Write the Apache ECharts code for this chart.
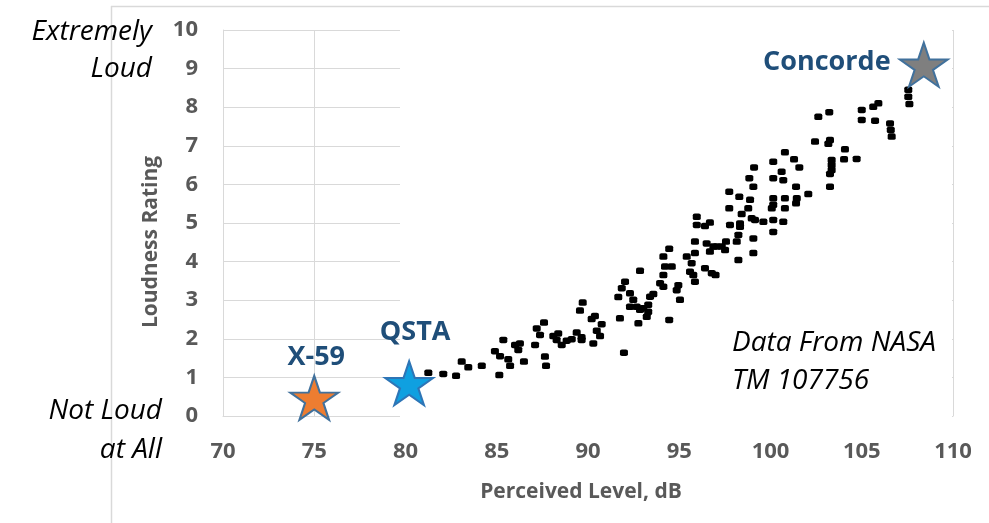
<!DOCTYPE html>
<html><head><meta charset="utf-8">
<script src="https://cdn.jsdelivr.net/npm/echarts@6/dist/echarts.min.js"></script>
<style>html,body{margin:0;padding:0;background:#fff}#c{width:989px;height:523px}</style>
</head><body><div id="c"></div>
<script>
// Perceived level (dB) of NASA TM 107756 data points
const surveyX = [81.25,82.07,82.77,83.08,83.44,84.18,85.14,85.36,84.90,85.18,85.63,85.73,86.0,86.18,86.49,87.10,87.37,87.19,87.59,87.64,87.70,88.10,88.28,88.56,88.83,89.11,89.38,89.65,89.71,89.56,89.65,90.20,90.38,90.48,90.66,90.29,90.75,91.97,91.66,92.03,91.75,91.85,92.30,92.48,92.30,92.76,92.85,93.03,93.30,93.22,93.40,93.58,93.30,94.13,94.22,94.13,94.59,94.13,93.95,94.45,94.86,95.04,94.95,95.41,95.68,95.77,95.86,94.45,95.86,95.96,95.96,95.86,96.41,96.78,96.50,96.68,97.05,97.51,97.56,98.24,98.15,98.24,98.33,99.06,99.06,96.68,97.74,97.78,98.33,98.42,97.74,98.29,98.78,98.97,98.88,99.15,99.61,100.15,100.70,100.15,100.07,100.15,100.79,100.79,100.15,99.06,98.84,99.10,100.15,100.15,100.61,100.70,100.79,101.29,101.58,101.40,101.44,101.40,102.07,102.44,102.62,103.22,103.26,103.17,103.35,103.35,103.35,103.26,103.26,104.08,104.03,104.72,105.0,105.0,105.73,105.63,105.91,106.55,106.59,106.64,107.55,107.55,107.61,86.27,88.37,92.67,92.85,96.41,97.33,96.87,95.59,96.99];
// Loudness rating of the same points
const surveyY = [1.12,1.09,1.04,1.41,1.26,1.30,1.06,1.97,1.68,1.55,1.47,1.30,1.84,1.71,1.41,1.84,2.10,2.27,2.42,1.54,1.30,2.07,1.97,1.84,1.95,1.99,2.16,2.04,2.94,2.73,1.97,2.51,2.59,2.21,2.07,1.88,2.38,1.64,3.08,3.48,2.53,3.31,3.18,3.01,2.83,2.40,3.76,2.79,2.88,2.57,3.09,3.16,2.70,4.13,3.87,3.65,3.87,3.35,3.44,2.49,3.26,3.01,3.39,4.13,3.96,3.65,3.48,4.33,4.52,5.16,4.95,4.22,3.83,3.70,4.47,4.26,4.39,4.30,4.52,4.04,4.52,4.69,4.90,4.60,4.22,5.01,5.38,4.95,4.99,5.23,5.81,5.68,5.38,5.12,5.60,5.08,5.03,5.08,5.03,4.77,5.38,5.64,5.38,5.64,5.47,5.94,6.16,6.44,6.16,6.59,6.33,6.11,6.83,6.65,6.44,5.94,5.64,5.51,5.75,7.11,7.75,7.87,7.15,7.05,6.63,6.50,6.37,6.27,5.94,6.91,6.65,6.66,7.93,7.67,7.65,8.01,8.10,7.58,7.41,7.24,8.45,8.27,8.08,1.88,2.14,2.83,2.75,4.92,4.39,4.39,3.74,3.65];
// Aircraft markers
const aircraftNames = ['X-59','QSTA','Concorde'];
const aircraftX = [75, 80.2, 108.4];
const aircraftY = [0.47, 0.85, 9.1];
const xTicks = [70,75,80,85,90,95,100,105,110];
const yTicks = [0,1,2,3,4,5,6,7,8,9,10];
const xTitle = 'Perceived Level, dB';
const yTitle = 'Loudness Rating';

const starPath = 'path://M50,0 L61.2,34.5 L97.6,34.5 L68.2,55.9 L79.4,90.5 L50,69.1 L20.6,90.5 L31.8,55.9 L2.4,34.5 L38.8,34.5 Z';
const starFill = ['#ED7D31','#0FA0E0','#7F7F7F'];
const starBorder = ['#41719C','#2E75B6','#41719C'];
const labelOffsets = [[2,-41],[6,-51],[-97,-2]];

const chart = echarts.init(document.getElementById('c'), null, {renderer:'canvas'});
const grey = '#d9d9d9';
const axisText = {color:'#595959', fontFamily:'Open Sans', fontWeight:'bold', fontSize:22};

const series = [{
  type:'scatter', z:5,
  data: surveyX.map((x,i)=>[x, surveyY[i]]),
  symbol:'roundRect', symbolSize:[8,6.5],
  itemStyle:{color:'#000', opacity:1}, silent:true
}];
aircraftNames.forEach((n,i)=>{
  series.push({
    type:'scatter', z:6, name:n,
    data:[[aircraftX[i], aircraftY[i]]],
    symbol:starPath, symbolSize:[48,44],
    itemStyle:{color:starFill[i], borderColor:starBorder[i], borderWidth:2, opacity:1},
    label:{show:true, position:'inside', offset:labelOffsets[i], formatter:n,
      color:'#1F4E79', fontFamily:'Open Sans', fontWeight:'bold', fontSize:27}
  });
});

chart.setOption({
  animation:false,
  backgroundColor:'#fff',
  grid:{left:223, right:36, top:30, bottom:107, containLabel:false},
  xAxis:{type:'value', min:xTicks[0], max:xTicks[xTicks.length-1], interval:5,
    axisLine:{show:true, lineStyle:{color:grey}}, axisTick:{show:false},
    axisLabel:Object.assign({margin:25}, axisText),
    splitLine:{show:true, lineStyle:{color:grey, width:1}}
  },
  yAxis:{type:'value', min:yTicks[0], max:yTicks[yTicks.length-1], interval:1,
    axisLine:{show:true, lineStyle:{color:grey}}, axisTick:{show:false},
    axisLabel:Object.assign({margin:25}, axisText),
    splitLine:{show:true, lineStyle:{color:grey, width:1}}
  },
  graphic:[
    {type:'rect', z:1, shape:{x:400, y:27, width:552, height:391}, style:{fill:'#fff'}, silent:true},
    {type:'line', z:1, shape:{x1:111, y1:6.5, x2:989, y2:6.5}, style:{stroke:grey, lineWidth:1.5}},
    {type:'line', z:1, shape:{x1:111.5, y1:6, x2:111.5, y2:523}, style:{stroke:grey, lineWidth:1.5}},
    {type:'text', z:10, x:581, y:492, style:{text:xTitle, fill:'#595959', font:'bold 21px "Open Sans"', textAlign:'center', textVerticalAlign:'middle'}},
    {type:'text', z:10, x:151, y:242, rotation:Math.PI/2, style:{text:yTitle, fill:'#595959', font:'bold 21px "Open Sans"', textAlign:'center', textVerticalAlign:'middle'}},
    {type:'text', z:10, right:989-152, top:18, style:{text:'Extremely', fill:'#000', font:'italic 28px "Open Sans"', textAlign:'right'}},
    {type:'text', z:10, right:989-152, top:55, style:{text:'Loud', fill:'#000', font:'italic 28px "Open Sans"', textAlign:'right'}},
    {type:'text', z:10, right:989-162, top:397, style:{text:'Not Loud', fill:'#000', font:'italic 28px "Open Sans"', textAlign:'right'}},
    {type:'text', z:10, right:989-162, top:436, style:{text:'at All', fill:'#000', font:'italic 28px "Open Sans"', textAlign:'right'}},
    {type:'text', z:10, left:732, top:329, style:{text:'Data From NASA', fill:'#000', font:'italic 28px "Open Sans"'}},
    {type:'text', z:10, left:732, top:367, style:{text:'TM 107756', fill:'#000', font:'italic 28px "Open Sans"'}}
  ],
  series: series
});
</script></body></html>
